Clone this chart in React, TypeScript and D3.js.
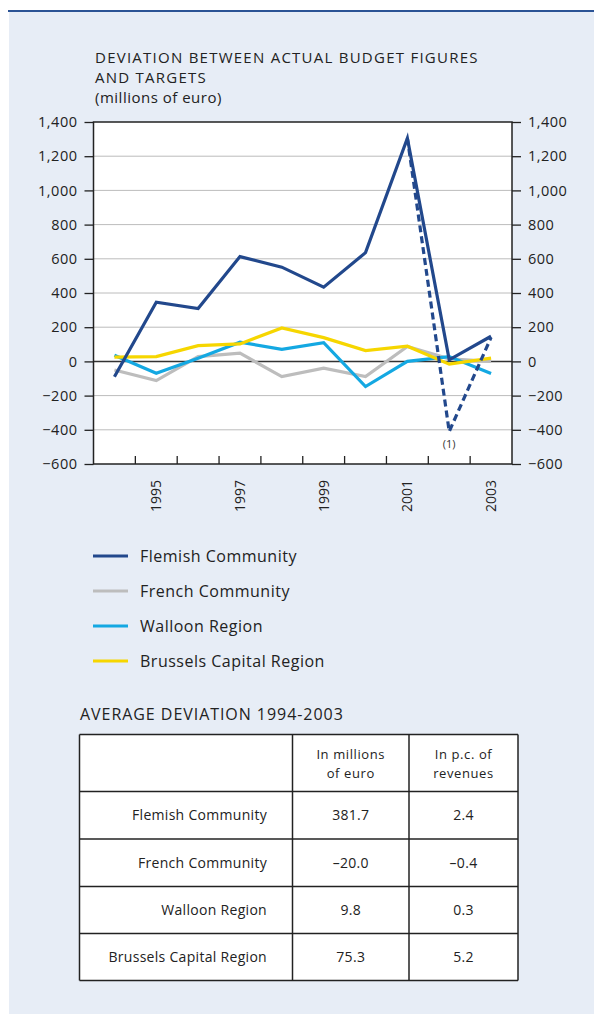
import React, { useRef, useEffect } from 'react';
import * as d3 from 'd3';

const years = [1994, 1995, 1996, 1997, 1998, 1999, 2000, 2001, 2002, 2003];
const flemish = [-90, 346, 309, 613, 551, 434, 636, 1305, 9, 147];
const flemishAlt = [null, null, null, null, null, null, null, 1305, -410, 140];
const french = [-50, -112, 28, 48, -89, -40, -89, 87, 15, 0];
const walloon = [36, -69, 19, 112, 71, 110, -147, 0, 28, -71];
const brussels = [25, 28, 92, 102, 196, 139, 63, 89, -16, 19];
const yTicks = [-600, -400, -200, 0, 200, 400, 600, 800, 1000, 1200, 1400];
const yearLabels = [1995, 1997, 1999, 2001, 2003];

const seriesNames = ['Flemish Community', 'French Community', 'Walloon Region', 'Brussels Capital Region'];
const seriesColors = ['#22488c', '#bdbdbd', '#14a8e2', '#f6d600'];

const tableHead = ['In millions|of euro', 'In p.c. of|revenues'];
const avgMillions = ['381.7', '\u201320.0', '9.8', '75.3'];
const avgPercent = ['2.4', '\u20130.4', '0.3', '5.2'];

const FONT = "'Open Sans', 'Noto Sans', sans-serif";

const App = () => {
    const ref = useRef<SVGSVGElement>(null);

    useEffect(() => {
        const width = 594;
        const height = 1014;
        const left = 93.5, right = 512, top = 122, bottom = 464;

        const svg = d3.select(ref.current);
        svg.selectAll('*').remove();
        svg.attr('width', width).attr('height', height)
            .style('font-family', FONT);

        // panel
        svg.append('rect').attr('x', 9).attr('y', 11).attr('width', width - 9).attr('height', height - 11)
            .attr('fill', '#e7edf6');
        svg.append('line').attr('x1', 8).attr('x2', width).attr('y1', 11).attr('y2', 11)
            .attr('stroke', '#2b5395').attr('stroke-width', 2);

        // title
        const title = svg.append('text').attr('x', 95).attr('fill', '#222')
            .style('font-size', '15px').style('letter-spacing', '1.25px');
        title.append('tspan').attr('x', 95).attr('y', 63).text('DEVIATION BETWEEN ACTUAL BUDGET FIGURES');
        title.append('tspan').attr('x', 95).attr('y', 83).text('AND TARGETS');
        title.append('tspan').attr('x', 95).attr('y', 103).style('letter-spacing', '0.5px').text('(millions of euro)');

        const x = d3.scaleBand<number>().domain(years).range([left, right]);
        const y = d3.scaleLinear().domain([-600, 1400]).range([bottom, top]);

        svg.append('rect').attr('x', left).attr('y', top).attr('width', right - left).attr('height', bottom - top)
            .attr('fill', '#fff');

        // grid
        svg.append('g').selectAll('line').data(yTicks.filter(d => d !== 0 && d !== 1400 && d !== -600)).join('line')
            .attr('x1', left).attr('x2', right)
            .attr('y1', d => y(d)).attr('y2', d => y(d))
            .attr('stroke', '#bcbcbc').attr('stroke-width', 1);

        // axes
        const yl = svg.append('g').attr('transform', `translate(${left},0)`)
            .call(d3.axisLeft(y).tickValues(yTicks).tickSize(9).tickPadding(7));
        const yr = svg.append('g').attr('transform', `translate(${right},0)`)
            .call(d3.axisRight(y).tickValues(yTicks).tickSize(9).tickPadding(7));
        [yl, yr].forEach(g => {
            g.select('.domain').remove();
            g.selectAll('line').attr('stroke', '#222').attr('stroke-width', 1.3);
            g.selectAll('text').attr('fill', '#222').style('font-size', '14.5px').style('letter-spacing', '0.5px')
                .style('font-family', FONT)
                .text((d: any) => d3.format(',')(d).replace('-', '\u2212'));
        });

        // x ticks (inward, at band boundaries)
        svg.append('g').selectAll('line').data(years.slice(1)).join('line')
            .attr('x1', d => x(d)!).attr('x2', d => x(d)!)
            .attr('y1', bottom).attr('y2', bottom - 8)
            .attr('stroke', '#222').attr('stroke-width', 1.3);

        svg.append('g').selectAll('text').data(yearLabels).join('text')
            .attr('transform', d => `translate(${x(d)! + x.bandwidth() / 2 + 5},480) rotate(-90)`)
            .attr('text-anchor', 'end').attr('fill', '#222').style('font-size', '14px')
            .text(d => d);

        // zero line
        svg.append('line').attr('x1', left).attr('x2', right).attr('y1', y(0)).attr('y2', y(0))
            .attr('stroke', '#333').attr('stroke-width', 1.5);

        const line = d3.line<number | null>()
            .defined(d => d !== null)
            .x((d, i) => x(years[i])! + x.bandwidth() / 2)
            .y(d => y(d as number));

        const allSeries = [french, walloon, brussels, flemish];
        const order = [1, 2, 3, 0];
        allSeries.forEach((s, k) => {
            svg.append('path').datum(s).attr('d', line as any)
                .attr('fill', 'none').attr('stroke', seriesColors[order[k]])
                .attr('stroke-width', 3.2).attr('stroke-linejoin', 'miter');
        });
        svg.append('path').datum(flemishAlt).attr('d', line as any)
            .attr('fill', 'none').attr('stroke', seriesColors[0])
            .attr('stroke-width', 3.2).attr('stroke-dasharray', '7,4');

        svg.append('text').attr('x', x(2002)! + x.bandwidth() / 2).attr('y', 448)
            .attr('text-anchor', 'middle').attr('fill', '#333').style('font-size', '11px').text('(1)');

        // frame
        svg.append('rect').attr('x', left).attr('y', top).attr('width', right - left).attr('height', bottom - top)
            .attr('fill', 'none').attr('stroke', '#222').attr('stroke-width', 1.5);

        // legend
        const lg = svg.append('g').selectAll('g').data(seriesNames).join('g')
            .attr('transform', (d, i) => `translate(93,${556 + i * 35})`);
        lg.append('line').attr('x1', 0).attr('x2', 35).attr('stroke', (d, i) => seriesColors[i]).attr('stroke-width', 3);
        lg.append('text').attr('x', 47).attr('dy', '0.35em').attr('fill', '#222')
            .style('font-size', '16px').style('letter-spacing', '0.5px').text(d => d);

        // table
        svg.append('text').attr('x', 80).attr('y', 720).attr('fill', '#222')
            .style('font-size', '16px').style('letter-spacing', '0.95px')
            .text('AVERAGE DEVIATION 1994-2003');

        const cols = [79.5, 292.5, 409, 518];
        const rows = [734.5, 791.5, 839, 886.5, 933.5, 980.5];
        const tb = svg.append('g');
        tb.append('rect').attr('x', cols[0]).attr('y', rows[0]).attr('width', cols[3] - cols[0]).attr('height', rows[5] - rows[0])
            .attr('fill', '#fff');
        tb.selectAll('.h').data(rows).join('line').attr('class', 'h')
            .attr('x1', cols[0]).attr('x2', cols[3]).attr('y1', d => d).attr('y2', d => d)
            .attr('stroke', '#222').attr('stroke-width', 1.5);
        tb.selectAll('.v').data(cols).join('line').attr('class', 'v')
            .attr('y1', rows[0]).attr('y2', rows[5]).attr('x1', d => d).attr('x2', d => d)
            .attr('stroke', '#222').attr('stroke-width', 1.5);

        tableHead.forEach((h, j) => {
            const cx = (cols[j + 1] + cols[j + 2]) / 2;
            h.split('|').forEach((t, k) => {
                tb.append('text').attr('x', cx).attr('y', 759 + k * 19).attr('text-anchor', 'middle')
                    .attr('fill', '#222').style('font-size', '13px').style('letter-spacing', '0.6px').text(t);
            });
        });
        seriesNames.forEach((n, i) => {
            const cy = (rows[i + 1] + rows[i + 2]) / 2;
            tb.append('text').attr('x', 267).attr('y', cy).attr('dy', '0.35em').attr('text-anchor', 'end')
                .attr('fill', '#222').style('font-size', '14px').style('letter-spacing', '0.3px').text(n);
            tb.append('text').attr('x', (cols[1] + cols[2]) / 2).attr('y', cy).attr('dy', '0.35em').attr('text-anchor', 'middle')
                .attr('fill', '#222').style('font-size', '14px').style('letter-spacing', '0.3px').text(avgMillions[i]);
            tb.append('text').attr('x', (cols[2] + cols[3]) / 2).attr('y', cy).attr('dy', '0.35em').attr('text-anchor', 'middle')
                .attr('fill', '#222').style('font-size', '14px').style('letter-spacing', '0.3px').text(avgPercent[i]);
        });
    }, []);

    return <svg ref={ref} style={{ position: 'absolute', left: 0, top: 0 }}></svg>;
};

export default App;
